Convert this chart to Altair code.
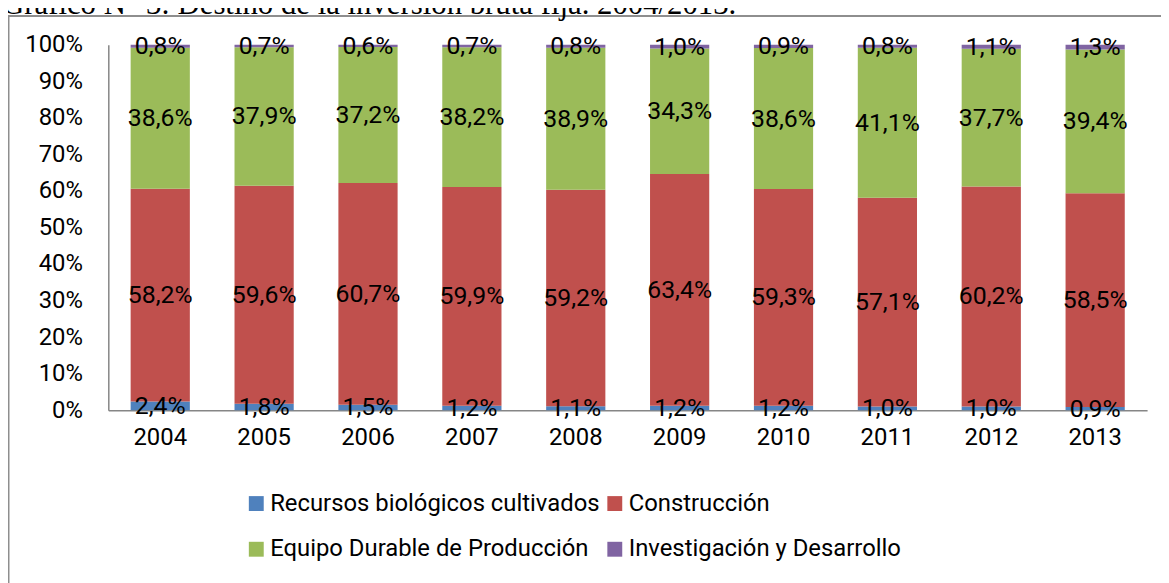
import altair as alt
import pandas as pd

years = ["2004", "2005", "2006", "2007", "2008", "2009", "2010", "2011", "2012", "2013"]
recursos = [2.4, 1.8, 1.5, 1.2, 1.1, 1.2, 1.2, 1.0, 1.0, 0.9]
construccion = [58.2, 59.6, 60.7, 59.9, 59.2, 63.4, 59.3, 57.1, 60.2, 58.5]
equipo = [38.6, 37.9, 37.2, 38.2, 38.9, 34.3, 38.6, 41.1, 37.7, 39.4]
investigacion = [0.8, 0.7, 0.6, 0.7, 0.8, 1.0, 0.9, 0.8, 1.1, 1.3]
y_ticks = [0.0, 0.1, 0.2, 0.3, 0.4, 0.5, 0.6, 0.7, 0.8, 0.9, 1.0]

series = ["Recursos biológicos cultivados", "Construcción",
          "Equipo Durable de Producción", "Investigación y Desarrollo"]
colors = ["#4F81BD", "#C0504D", "#9BBB59", "#8064A2"]
title_text = "Gráfico N° 3: Destino de la inversión bruta fija. 2004/2013."

rows = []
for idx, (name, vals) in enumerate(zip(series, [recursos, construccion, equipo, investigacion])):
    for y, v in zip(years, vals):
        rows.append({"year": y, "serie": name, "idx": idx, "value": v,
                     "label": f"{v:.1f}".replace(".", ",") + "%"})
df = pd.DataFrame(rows)

FONT = "Roboto"

base = alt.Chart(df).transform_stack(
    stack="value", groupby=["year"], sort=[alt.SortField("idx", order="ascending")],
    as_=["v0", "v1"], offset="normalize"
).transform_calculate(mid="(datum.v0 + datum.v1) / 2")

xscale = alt.Scale(paddingInner=0.43, paddingOuter=0.215)
yscale = alt.Scale(domain=[0, 1], nice=False)
xaxis = alt.Axis(labelAngle=0, ticks=False, domainColor="#868686", domainWidth=1.5,
                 labelFont=FONT, labelFontSize=24, labelColor="black",
                 labelPadding=16, grid=False, title=None)
yaxis = alt.Axis(values=y_ticks, format=".0%", ticks=False,
                 domainColor="#868686", domainWidth=1.5, grid=False,
                 labelOverlap=False, labelFlush=False,
                 labelFont=FONT, labelFontSize=24, labelColor="black",
                 labelPadding=26, title=None)

bars = base.mark_bar().encode(
    x=alt.X("year:N", title=None, scale=xscale, axis=xaxis),
    y=alt.Y("v0:Q", title=None, scale=yscale, axis=yaxis),
    y2="v1:Q",
    color=alt.Color("serie:N", scale=alt.Scale(domain=series, range=colors),
                    legend=alt.Legend(title=None, orient="none", legendX=137, legendY=450,
                                      columns=2, direction="horizontal",
                                      symbolType="square", symbolSize=225,
                                      symbolStrokeWidth=0, labelFont=FONT, labelFontSize=24,
                                      labelColor="black", labelOffset=2, rowPadding=22,
                                      columnPadding=3, padding=0, labelLimit=700)),
)

labels = base.mark_text(font=FONT, fontSize=25, color="black", baseline="middle").encode(
    x=alt.X("year:N", title=None, scale=xscale, axis=xaxis),
    y=alt.Y("mid:Q", title=None, scale=yscale, axis=yaxis),
    text="label:N",
)

dummy = alt.Chart(pd.DataFrame({"a": [0]}))
left_border = dummy.mark_rule(color="#8e8e8e", strokeWidth=2).encode(
    x=alt.value(-100.5), y=alt.value(-29), y2=alt.value(600))
top_border = dummy.mark_rule(color="#8e8e8e", strokeWidth=2).encode(
    x=alt.value(-101.5), x2=alt.value(1200), y=alt.value(-29))
title = dummy.mark_text(font="Liberation Serif", fontSize=31, color="black",
                        align="left", baseline="alphabetic").encode(
    x=alt.value(-107), y=alt.value(-31), text=alt.value(title_text))

chart = alt.layer(left_border, top_border, title, bars, labels).properties(
    width=1046, height=368,
    autosize=alt.AutoSizeParams(type="none"),
    padding={"left": 101, "top": 35, "right": 14, "bottom": 172},
).configure_view(strokeWidth=0).configure_axis(labelOverlap=False)

chart.save("out.html", embed_options={"renderer": "svg", "actions": False})
